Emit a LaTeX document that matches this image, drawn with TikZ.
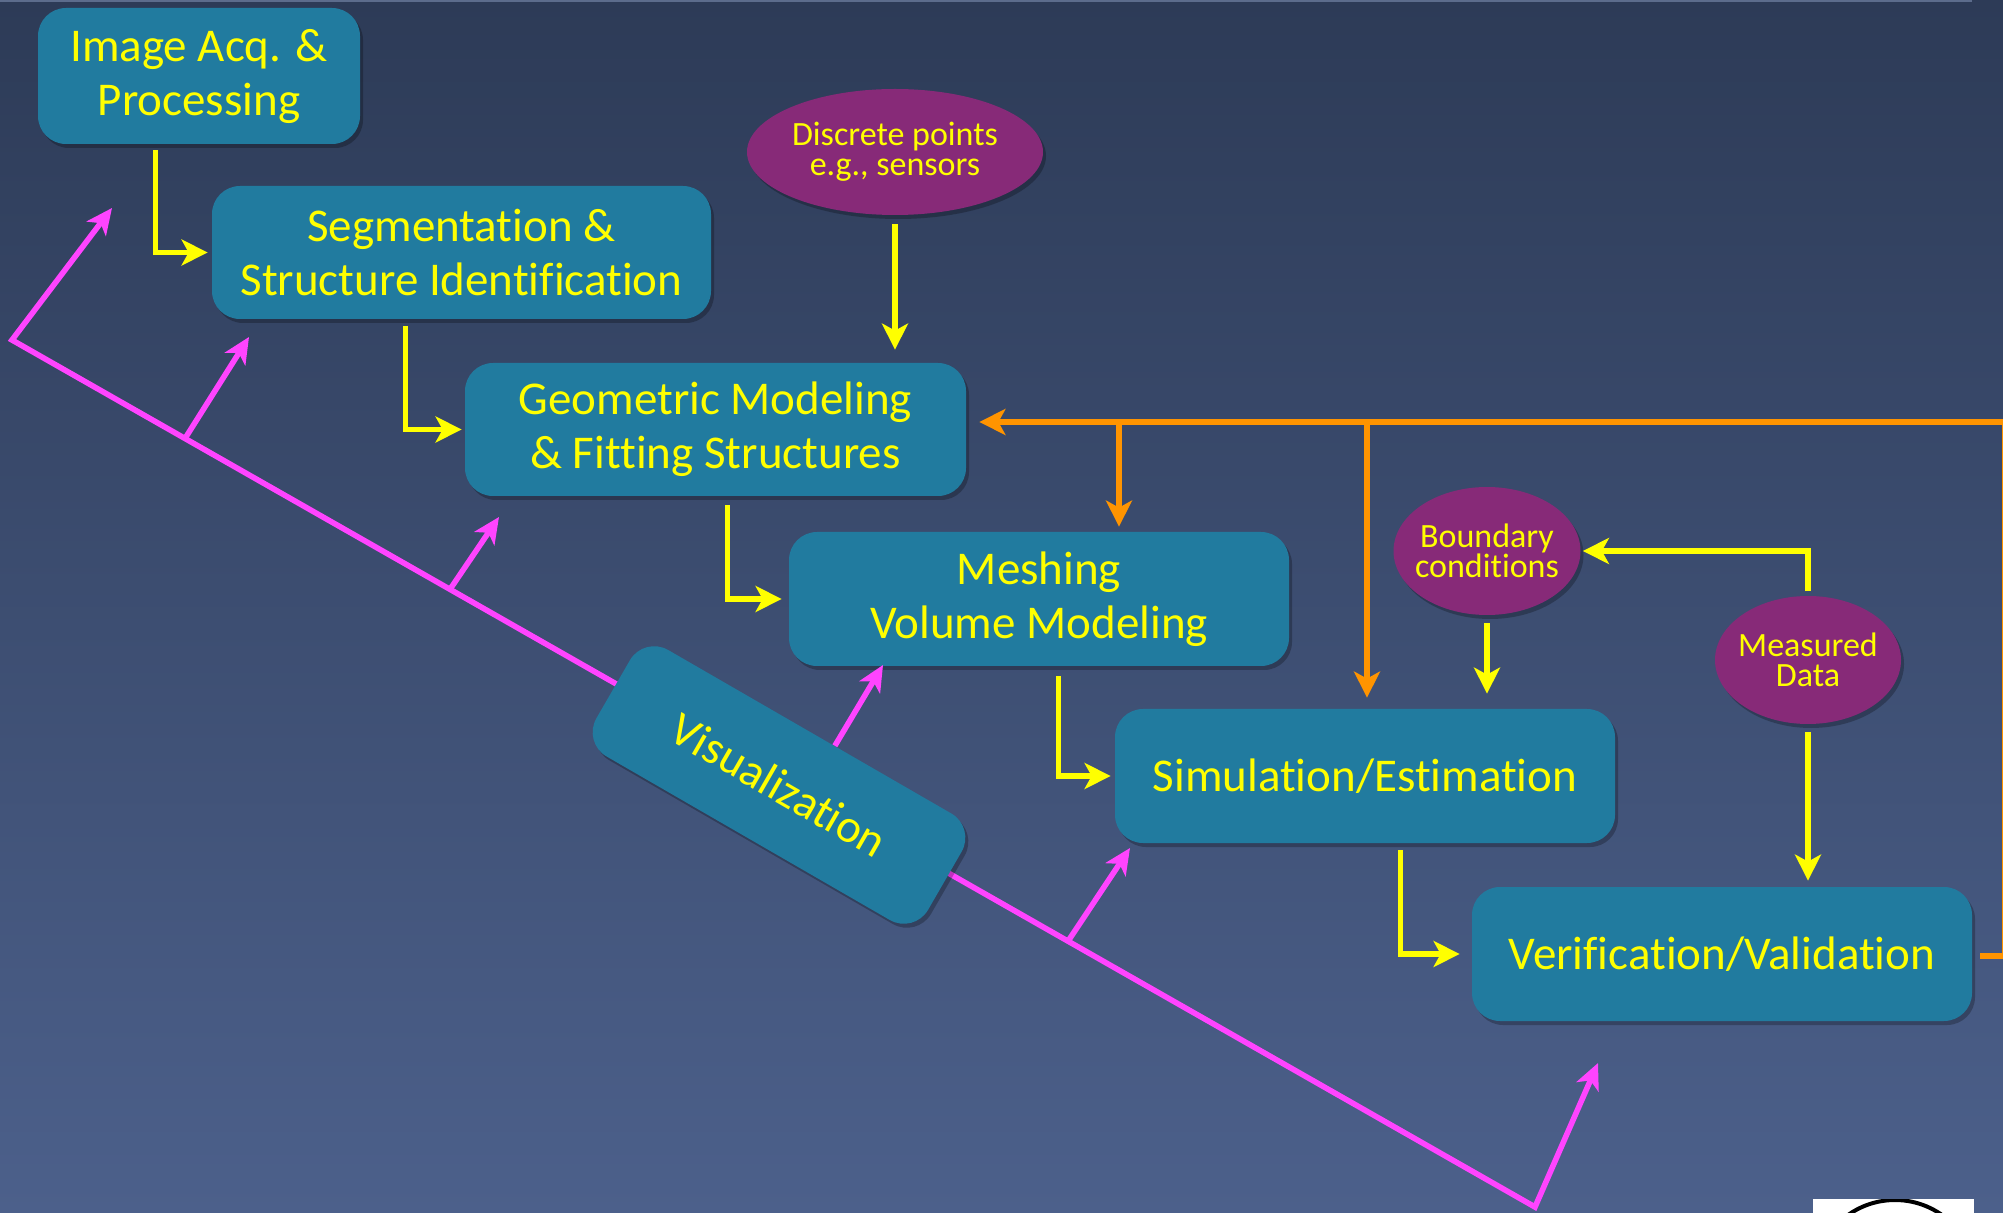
\documentclass[tikz,border=0pt]{standalone}
\usepackage{fontspec}
\setmainfont{Carlito}[Ligatures={NoCommon}]
\usetikzlibrary{arrows.meta,shapes.geometric,shadows,calc}

\definecolor{bgtop}{HTML}{2D3B57}
\definecolor{bgbot}{HTML}{4C608B}
\definecolor{boxc}{HTML}{217B9F}
\definecolor{ellc}{HTML}{872A78}
\definecolor{txty}{HTML}{FFFF00}
\definecolor{orng}{HTML}{FF9400}
\definecolor{pnk}{HTML}{FF44FF}
\definecolor{stripc}{HTML}{5C6C8C}

\begin{document}
\begin{tikzpicture}[x=0.5pt,y=-0.5pt,
  shd/.style={drop shadow={shadow xshift=1.5pt,shadow yshift=-2pt,opacity=0.25,fill=black}},
  box/.style={fill=boxc, rounded corners=14pt, text=txty, align=center, inner sep=0pt,
    font=\fontsize{23.5}{27}\selectfont, shd},
  ell/.style={ellipse, fill=ellc, text=txty, align=center, inner sep=0pt, inner xsep=-12pt,
    font=\fontsize{17}{14.8}\selectfont, shd},
  tipy/.style={-{Stealth[length=13pt,width=13pt,inset=3.5pt]}},
  ya/.style={draw=txty, line width=2.6pt, tipy, shorten >=2pt},
  oa/.style={draw=orng, line width=2.6pt, tipy, shorten >=2pt},
  pk/.style={draw=pnk, line width=2.8pt},
  pka/.style={pk, -{Stealth[length=13pt,width=12pt,inset=3.5pt]}}
]
\useasboundingbox (0,0) rectangle (2003,1213);
\shade[top color=bgtop, bottom color=bgbot] (0,0) rectangle (2003,1213);
\fill[stripc] (0,0) rectangle (1972,2.5);

% logo fragment bottom right
\fill[white] (1813,1199) rectangle (1974,1213);
\begin{scope}
  \clip (1813,1199) rectangle (1974,1213);
  \draw[black, line width=2pt] (1895,1281) circle (40.5pt);
\end{scope}

% visualization spine
\coordinate (A1) at (12,340);
\coordinate (A2) at (1535,1207);
\coordinate (t0) at (112,208);
\coordinate (t6) at (1598,1063);
\draw[pk, {Stealth[length=13pt,width=12pt,inset=3.5pt]}-{Stealth[length=13pt,width=12pt,inset=3.5pt]}]
  (t0) -- (A1) -- (A2) -- (t6);
\coordinate (b2) at ($(A1)!0.1136!(A2)$);
\coordinate (b3) at ($(A1)!0.2876!(A2)$);
\coordinate (b5) at ($(A1)!0.6934!(A2)$);
\coordinate (t2) at (249,337);
\coordinate (t3) at (499,517);
\coordinate (t4) at (883,665);
\coordinate (t5) at (1130,848);
\draw[pka] (b2) -- (t2);
\draw[pka] (b3) -- (t3);
\draw[pka] (b5) -- (t5);

% nodes
\node[box, minimum width=161pt, minimum height=68pt] (ia) at (199,76) {Image Acq. \&\\Processing};
\node[box, minimum width=249.5pt, minimum height=66.5pt] (seg) at (461.5,252.5) {Segmentation \&\\Structure Identification};
\node[box, minimum width=250.5pt, minimum height=66.5pt] (geo) at (715.5,429.5) {Geometric Modeling\\\& Fitting Structures};
\node[box, minimum width=250pt, minimum height=67pt] (mesh) at (1039,599) {Meshing\\Volume Modeling};
\node[box, minimum width=250pt, minimum height=67pt] (sim) at (1365,776) {Simulation/Estimation};
\node[box, minimum width=250pt, minimum height=67pt] (ver) at (1722,954) {Verification/Validation};
\node[box, rotate=-30, minimum width=191.5pt, minimum height=61.5pt] (viz) at (779,785) {Visualization};

\node[ell, minimum width=148pt, minimum height=63pt] (dp) at (895,152) {Discrete points\\e.g., sensors};
\node[ell, minimum width=93.5pt, minimum height=64pt] (bc) at (1487,551) {Boundary\\conditions};
\node[ell, minimum width=93pt, minimum height=64pt] (md) at (1808,660) {Measured\\Data};

\draw[pka] ($(viz.north)!0.15!(viz.north east)$) -- (t4);

% yellow flow
\draw[ya] ($(ia.south west)+(118,6)$) |- (seg.west);
\draw[ya, shorten >=1.5pt] ($(seg.south west)+(194,7)$) |- (geo.west);
\draw[ya, shorten >=3.5pt] ($(geo.south west)+(263,9)$) |- (mesh.west);
\draw[ya] ($(mesh.south west)+(270,10)$) |- (sim.west);
\draw[ya, shorten >=6pt] ($(sim.south west)+(286,7)$) |- (ver.west);
\draw[ya, shorten >=6.5pt] ($(dp.south)+(0,9)$) -- (dp.south |- geo.north);
\draw[ya, shorten >=7.5pt] ($(bc.south)+(0,8)$) -- (bc.south |- sim.north);
\draw[ya, shorten >=1pt] ($(md.north)+(0,-5)$) |- (bc.east);
\draw[ya, shorten >=3pt] ($(md.south)+(0,8)$) -- (md.south |- ver.north);

% orange feedback
\coordinate (oR) at (2005,422);
\coordinate (ob1) at (1119,422);
\coordinate (ob2) at (1367,422);
\draw[oa, shorten >=6.5pt] ($(ver.east)+(8,2)$) -| (oR) -- (geo.east |- oR);
\draw[oa, shorten >=2.5pt] (ob1) -- (ob1 |- mesh.north);
\draw[oa, shorten >=5.5pt] (ob2) -- (ob2 |- sim.north);
\end{tikzpicture}
\end{document}
